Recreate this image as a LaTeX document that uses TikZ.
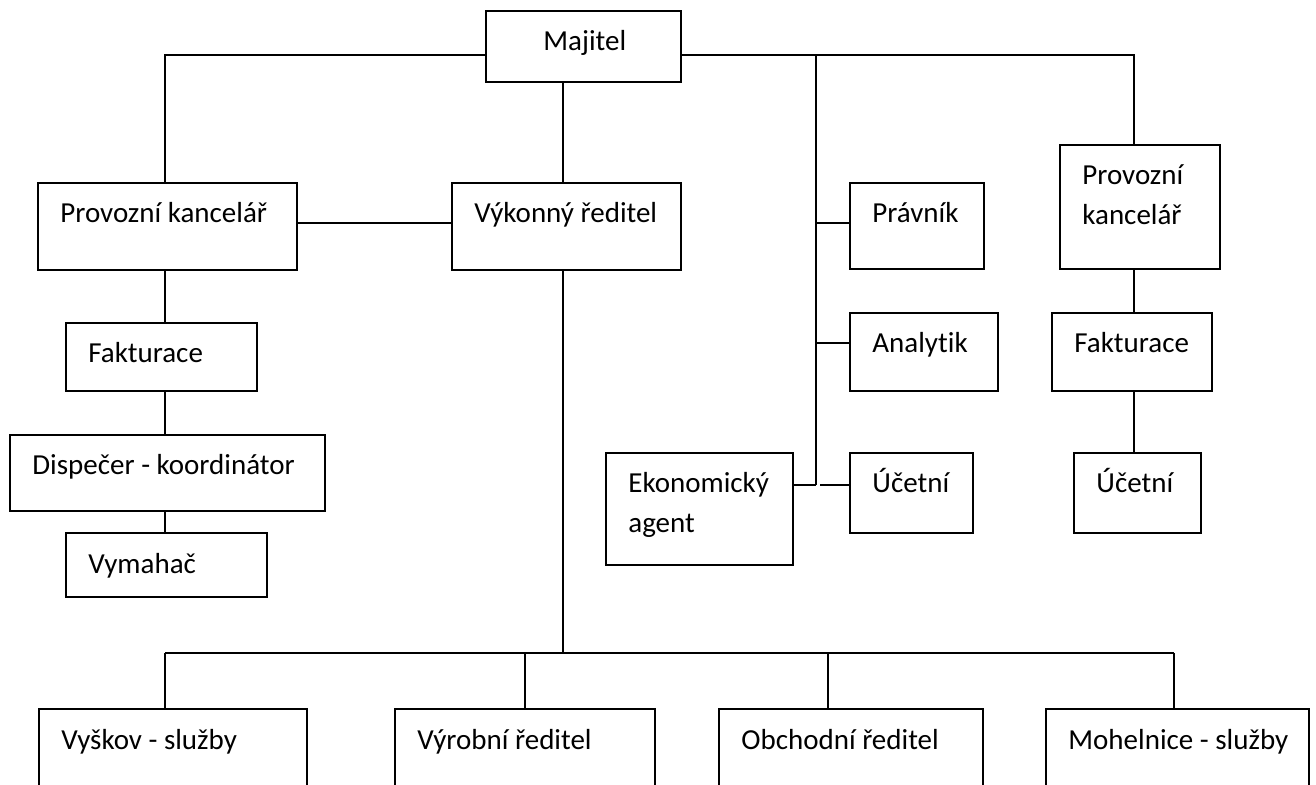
\documentclass[tikz,border=0pt]{standalone}
\usepackage{fontspec}
\setmainfont{Carlito}[Ligatures=NoCommon]
\usetikzlibrary{fit}

\newcommand{\twolines}[2]{\vtop{\hbox{#1}\hbox{#2}}}

\begin{document}
\begin{tikzpicture}[
  x=0.5pt, y=-0.5pt,
  font=\fontsize{14.5}{20}\selectfont,
  unit/.style={draw=black, line width=1.1pt, rectangle, inner sep=0pt},
  lbl/.style={anchor=base west, inner sep=0pt, text=black},
  link/.style={draw=black, line width=0.9pt},
]
\useasboundingbox (0,0) rectangle (1316,785);
\clip (0,0) rectangle (1316,785);

% a box from its two corners, its text set in from the top left corner
\newcommand{\unitbox}[7][22]{%
  \node[unit, fit={(#3,#4) (#5,#6)}] (#2) {};
  \node[lbl] (#2-t) at ({#3+#1},{#4+40}) {#7};}

% ================================ top =======================================
\unitbox[57]{maj}{486}{11}{681}{82}{Majitel}

% ============================ left branch ===================================
\unitbox{pk1}{38}{183}{297}{270}{Provozní kancelář}
\unitbox{fak1}{66}{323}{257}{391}{Fakturace}
\unitbox{disp}{10}{435}{325}{511}{Dispečer - koordinátor}
\unitbox{vym}{66}{533}{267}{597}{Vymahač}

% ============================ middle ========================================
\unitbox{vr}{452}{183}{681}{270}{Výkonný ředitel}
\unitbox{prav}{850}{183}{984}{269}{Právník}
\unitbox{anal}{850}{313}{998}{391}{Analytik}
\unitbox{uc1}{850}{453}{973}{533}{Účetní}
\unitbox{eko}{606}{453}{793}{565}{\twolines{Ekonomický}{agent}}

% ============================ right branch ==================================
\unitbox{pk2}{1060}{145}{1220}{269}{\twolines{Provozní}{kancelář}}
\unitbox{fak2}{1052}{313}{1212}{391}{Fakturace}
\unitbox{uc2}{1074}{453}{1201}{533}{Účetní}

% ============================ bottom row ====================================
% the lower edges run off the page
\unitbox{vys}{39}{709}{307}{830}{Vyškov - služby}
\unitbox{vyr}{395}{709}{655}{830}{Výrobní ředitel}
\unitbox{obch}{719}{709}{983}{830}{Obchodní ředitel}
\unitbox{moh}{1046}{709}{1309}{830}{Mohelnice - služby}

% ============================ connectors ====================================
\coordinate (topL) at (165,55);
\coordinate (topM) at (816,55);
\coordinate (topR) at (1134,55);
\coordinate (trunk) at (563,653);
\draw[link] (maj.west |- topL) -- (topL) -- (pk1.north -| topL);
\draw[link] (maj.east |- topR) -- (topR) -- (pk2.north -| topR);
\draw[link] (maj.south -| trunk) -- (vr.north -| trunk);
\draw[link] (vr.south -| trunk) -- (trunk);

% office beside the director
\coordinate (side) at (0,223);
\draw[link] (pk1.east |- side) -- (vr.west |- side);

% left column
\coordinate (colL) at (165,0);
\draw[link] (pk1.south -| colL) -- (fak1.north -| colL);
\draw[link] (fak1.south -| colL) -- (disp.north -| colL);
\draw[link] (disp.south -| colL) -- (vym.north -| colL);

% staff line under the owner
\coordinate (jPrav) at (816,223);
\coordinate (jAnal) at (816,343);
\coordinate (jUc) at (816,485);
\coordinate (jUcR) at (820,485);
\draw[link] (topM) -- (jUc);
\draw[link] (jPrav) -- (prav.west |- jPrav);
\draw[link] (jAnal) -- (anal.west |- jAnal);
\draw[link] (eko.east |- jUc) -- (jUc);
\draw[link] (jUcR) -- (uc1.west |- jUcR);

% right column
\draw[link] (pk2.south -| topR) -- (fak2.north -| topR);
\draw[link] (fak2.south -| topR) -- (uc2.north -| topR);

% bus to the bottom row
\coordinate (busL) at (165,653);
\coordinate (busR) at (1174,653);
\draw[link] (busL) -- (busR);
\foreach \n/\x in {vys/165, vyr/525, obch/828, moh/1174} {
  \coordinate (drop-\n) at (\x,653);
  \draw[link] (drop-\n) -- (\n.north -| drop-\n);}
\end{tikzpicture}
\end{document}
